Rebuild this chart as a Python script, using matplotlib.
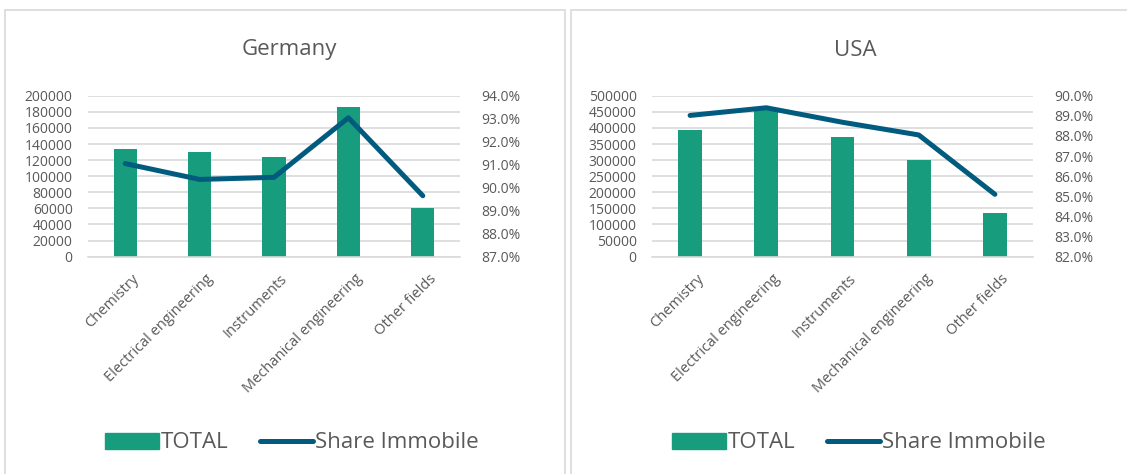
import matplotlib
matplotlib.use("Agg")
import matplotlib.pyplot as plt
import matplotlib.transforms as mtransforms
from matplotlib.patches import Rectangle, Patch
from matplotlib.lines import Line2D
from matplotlib.ticker import FuncFormatter, MultipleLocator

plt.rcParams['font.family'] = ['Open Sans', 'DejaVu Sans']

categories = ["Chemistry", "Electrical engineering", "Instruments",
              "Mechanical engineering", "Other fields"]

germany_total = [134000, 130000, 124000, 186000, 61000]
germany_share = [0.9105, 0.9036, 0.9045, 0.9304, 0.8965]

usa_total = [393000, 457000, 372000, 300000, 137000]
usa_share = [0.8902, 0.8940, 0.8868, 0.8805, 0.8510]

BAR = "#179c7d"
LINE = "#005b7f"
GRID = "#d9d9d9"
TXT = "#595959"

W, H = 1127, 474
fig = plt.figure(figsize=(W / 100, H / 100), dpi=100)
fig.patch.set_facecolor("white")


def px_rect(x0, y0, x1, y1):
    return [x0 / W, 1 - y1 / H, (x1 - x0) / W, (y1 - y0) / H]


# panel borders
for (x0, x1) in [(5, 565), (571, 1135)]:
    fig.patches.append(Rectangle((x0 / W, -0.05), (x1 - x0) / W, 1.05 - 10 / H,
                                 transform=fig.transFigure, fill=False,
                                 edgecolor=GRID, lw=1.2))


def panel(rect, title, tx, total, share, lmax, lstep, rmin, rmax, legx):
    ax = fig.add_axes(rect)
    x = list(range(len(categories)))
    ax.bar(x, total, width=0.31, color=BAR, zorder=2)
    ax.set_xlim(-0.5, len(categories) - 0.5)
    ax.set_ylim(0, lmax)
    ax.yaxis.set_major_locator(MultipleLocator(lstep))
    ax.yaxis.set_major_formatter(FuncFormatter(lambda v, p: f"{int(round(v))}"))
    ax.grid(axis="y", color=GRID, lw=1.2, zorder=0)
    ax.set_axisbelow(True)
    for s in ["top", "left", "right"]:
        ax.spines[s].set_visible(False)
    ax.spines["bottom"].set_color(GRID)
    ax.spines["bottom"].set_linewidth(1.2)
    ax.tick_params(axis="y", length=0, labelsize=10, colors=TXT, pad=11)
    ax.tick_params(axis="x", length=0, colors=TXT, pad=4)
    ax.set_xticks(x)
    ax.set_xticklabels(categories, rotation=45, ha="right", va="top",
                       rotation_mode="anchor", fontsize=10.5, color=TXT)
    off = mtransforms.ScaledTranslation(6 / 100, -6 / 100, fig.dpi_scale_trans)
    for lab in ax.get_xticklabels():
        lab.set_y(-0.02)
        lab.set_transform(lab.get_transform() + off)

    ax2 = ax.twinx()
    ax2.plot(x, share, color=LINE, lw=3.6, solid_capstyle="round",
             solid_joinstyle="round", zorder=3)
    ax2.set_ylim(rmin, rmax)
    ax2.yaxis.set_major_locator(MultipleLocator(0.01))
    ax2.yaxis.set_major_formatter(FuncFormatter(lambda v, p: f"{v*100:.1f}%"))
    for s in ax2.spines.values():
        s.set_visible(False)
    ax2.tick_params(length=0, labelsize=10, colors=TXT, pad=15)

    fig.text(tx / W, 1 - 50 / H, title, ha="center", va="center",
             fontsize=16, color=TXT)

    handles = [Patch(facecolor=BAR, edgecolor=BAR),
               Line2D([0], [0], color=LINE, lw=3.6, solid_capstyle="round")]
    fig.legend(handles, ["TOTAL", "Share Immobile"], loc="center",
               bbox_to_anchor=(legx / W, 1 - 443 / H), ncol=2,
               frameon=False, fontsize=16, handlelength=2.4,
               handleheight=0.7, handletextpad=0.1, columnspacing=1.4,
               labelcolor=TXT)
    return ax, ax2


panel(px_rect(88, 95.7, 460, 256.7), "Germany", 289, germany_total,
      germany_share, 200000, 20000, 0.87, 0.94, 292)
panel(px_rect(652, 95.7, 1033, 256.7), "USA", 855, usa_total,
      usa_share, 500000, 50000, 0.82, 0.90, 859)

fig.savefig("out.png", dpi=100, facecolor="white")
